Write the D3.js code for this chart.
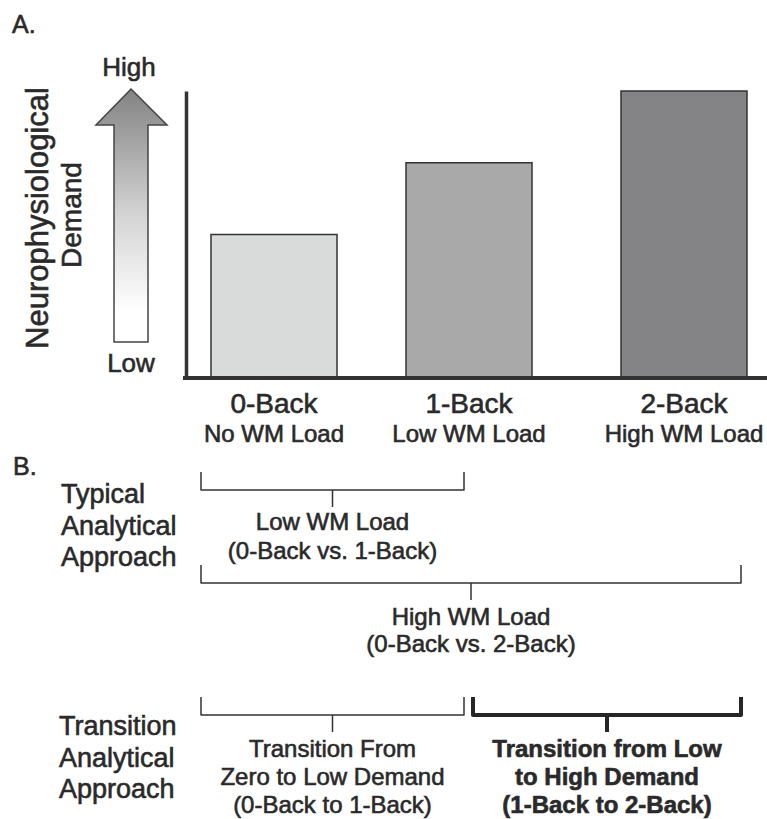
<!DOCTYPE html>
<html>
<head>
<meta charset="utf-8">
<script src="https://cdn.jsdelivr.net/npm/d3@7"></script>
<style>
  body { margin: 0; background: #fff; }
  text { font-family: "Liberation Sans", Arial, sans-serif; fill: #2a2a2a; stroke: #2a2a2a; stroke-width: 0.6px; }
</style>
</head>
<body>
<svg class="svg" width="767" height="819"></svg>
<script>
// data
const categories = ['0-Back', '1-Back', '2-Back'];
const loadLabels = ['No WM Load', 'Low WM Load', 'High WM Load'];
const demandValues = [0.5, 0.75, 1.0];

const typicalComparisons = [
    { from: '0-Back', to: '1-Back', lines: ['Low WM Load', '(0-Back vs. 1-Back)'] },
    { from: '0-Back', to: '2-Back', lines: ['High WM Load', '(0-Back vs. 2-Back)'] }
];
const transitionComparisons = [
    { from: '0-Back', to: '1-Back', lines: ['Transition From', 'Zero to Low Demand', '(0-Back to 1-Back)'] },
    { from: '1-Back', to: '2-Back', lines: ['Transition from Low', 'to High Demand', '(1-Back to 2-Back)'] }
];

// style
const barFill = ['#d9dada', '#a9a9a9', '#848486'];
const strokeColor = '#333';
const barWidth = 126;
const baseY = 378;

const svg = d3.select('.svg');
const bars = categories.map((c, i) => ({ cat: c, load: loadLabels[i], value: demandValues[i], fill: barFill[i] }));

const x = d3.scaleOrdinal().domain(categories).range([211, 406, 621]);
const y = d3.scaleLinear().domain([0, 1]).range([baseY, 91]);

// panel letters
svg.append('text').attr('x', 12).attr('y', 33).attr('font-size', 25).text('A.');
svg.append('text').attr('x', 13).attr('y', 475).attr('font-size', 25).text('B.');

// gradient arrow
const grad = svg.append('defs').append('linearGradient')
    .attr('id', 'arrowGrad').attr('x1', 0).attr('y1', 0).attr('x2', 0).attr('y2', 1);
grad.selectAll('stop').data([['0%', '#828282'], ['50%', '#d4d4d4'], ['88%', '#ffffff']]).join('stop')
    .attr('offset', d => d[0]).attr('stop-color', d => d[1]);

const arrow = d3.path();
arrow.moveTo(131, 89);
arrow.lineTo(167, 125);
arrow.lineTo(148, 125);
arrow.lineTo(148, 342);
arrow.lineTo(114, 342);
arrow.lineTo(114, 125);
arrow.lineTo(96, 125);
arrow.closePath();
svg.append('path').attr('d', arrow.toString())
    .attr('fill', 'url(#arrowGrad)').attr('stroke', '#444').attr('stroke-width', 1.5);

svg.append('text').attr('x', 129).attr('y', 76).attr('text-anchor', 'middle').attr('font-size', 26).text('High');
svg.append('text').attr('x', 131).attr('y', 372).attr('text-anchor', 'middle').attr('font-size', 26).text('Low');

svg.append('text').attr('transform', 'translate(48,218) rotate(-90)')
    .attr('text-anchor', 'middle').attr('font-size', 31).text('Neurophysiological');
svg.append('text').attr('transform', 'translate(81,215) rotate(-90)')
    .attr('text-anchor', 'middle').attr('font-size', 28).text('Demand');

// bars
svg.selectAll('.bar').data(bars).join('rect')
    .classed('bar', true)
    .attr('x', d => x(d.cat))
    .attr('y', d => y(d.value))
    .attr('width', barWidth)
    .attr('height', d => y(0) - y(d.value))
    .attr('fill', d => d.fill)
    .attr('stroke', strokeColor)
    .attr('stroke-width', 1.5);

// axes
svg.append('g').attr('transform', 'translate(186,0)')
    .call(d3.axisLeft(y).ticks(0).tickSize(0))
    .call(g => g.select('.domain').attr('stroke', strokeColor).attr('stroke-width', 3.5));
svg.append('line').attr('x1', 183).attr('x2', 767).attr('y1', baseY).attr('y2', baseY)
    .attr('stroke', strokeColor).attr('stroke-width', 4);

// category labels
svg.selectAll('.cat-label').data(bars).join('text')
    .classed('cat-label', true)
    .attr('x', d => x(d.cat) + barWidth / 2)
    .attr('y', 413)
    .attr('text-anchor', 'middle')
    .attr('font-size', 28)
    .text(d => d.cat);
svg.selectAll('.load-label').data(bars).join('text')
    .classed('load-label', true)
    .attr('x', d => x(d.cat) + barWidth / 2)
    .attr('y', 442)
    .attr('text-anchor', 'middle')
    .attr('font-size', 24)
    .text(d => d.load);

// bracket anchors: left edge of first bar, middle of second, right edge of last
const anchor = c => {
    if (c === categories[0]) return x(c) - 10;
    if (c === categories[categories.length - 1]) return x(c) + barWidth - 6;
    return x(c) + barWidth / 2;
};

function drawBracket(cmp, top, opts) {
    const x1 = anchor(cmp.from) + (cmp.from === categories[0] ? 0 : 4);
    const x2 = anchor(cmp.to) - (cmp.to === categories[categories.length - 1] ? 0 : 5);
    const mid = (x1 + x2) / 2;
    const h = top + 18;
    const p = d3.path();
    p.moveTo(x1, top);
    p.lineTo(x1, h);
    p.lineTo(x2, h);
    p.lineTo(x2, top);
    p.moveTo(mid, h);
    p.lineTo(mid, h + 17);
    svg.append('path').attr('d', p.toString())
        .attr('fill', 'none')
        .attr('stroke', opts.bold ? '#262626' : strokeColor)
        .attr('stroke-width', opts.bold ? 4 : 1.5)
        .attr('stroke-linejoin', 'round');
    svg.append('g').selectAll('text').data(cmp.lines).join('text')
        .attr('x', mid)
        .attr('y', (d, i) => h + opts.textOffset + i * opts.lineGap)
        .attr('text-anchor', 'middle')
        .attr('font-size', 24)
        .attr('font-weight', opts.bold ? 'bold' : null)
        .text(d => d);
}

drawBracket(typicalComparisons[0], 472, { textOffset: 40, lineGap: 29 });
drawBracket(typicalComparisons[1], 565, { textOffset: 42, lineGap: 27 });
drawBracket(transitionComparisons[0], 697, { textOffset: 42, lineGap: 28 });
drawBracket(transitionComparisons[1], 697, { textOffset: 42, lineGap: 28, bold: true });

// row labels
svg.append('g').selectAll('text').data(['Typical', 'Analytical', 'Approach']).join('text')
    .attr('x', 61).attr('y', (d, i) => 503 + i * 31.5).attr('font-size', 27).text(d => d);
svg.append('g').selectAll('text').data(['Transition', 'Analytical', 'Approach']).join('text')
    .attr('x', 59).attr('y', (d, i) => 735 + i * 31.5).attr('font-size', 27).text(d => d);
</script>
</body>
</html>
